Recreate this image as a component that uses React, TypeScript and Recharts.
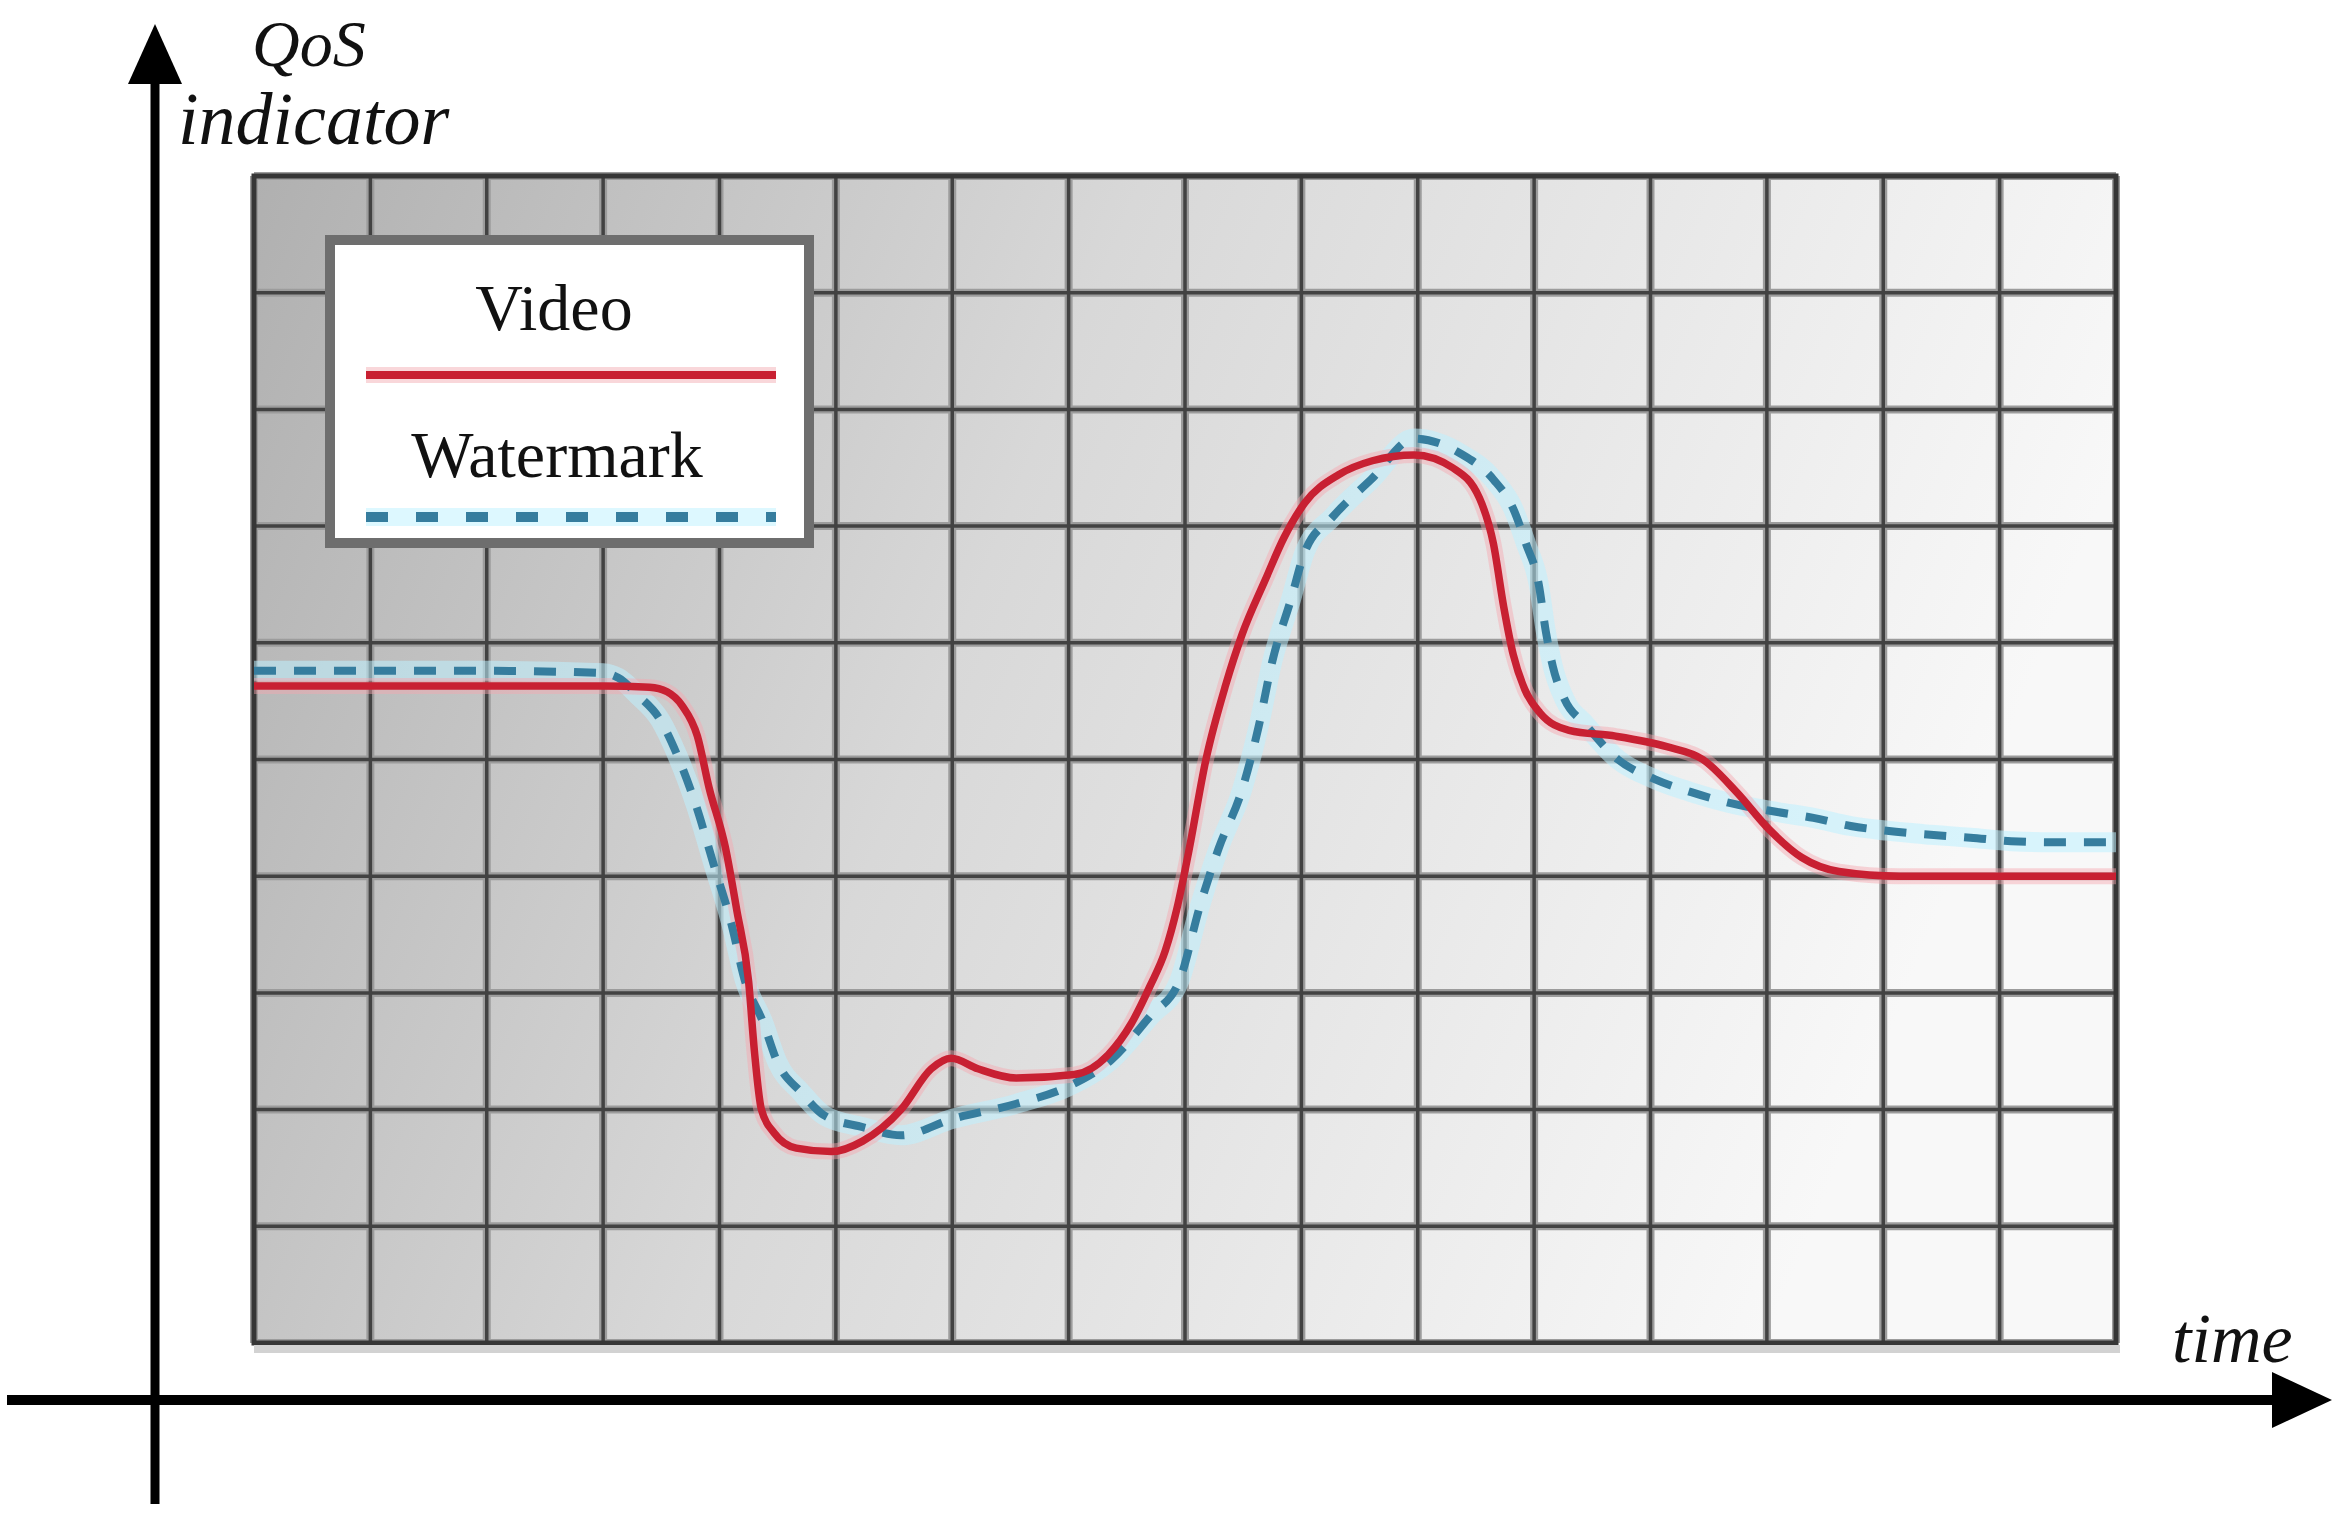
import React from 'react';
import { LineChart, Line, XAxis, YAxis, CartesianGrid, ReferenceArea, Legend } from 'recharts';

const W = 2340;
const H = 1522;

// grid cells (time steps / indicator levels)
const timeTicks = [0, 1, 2, 3, 4, 5, 6, 7, 8, 9, 10, 11, 12, 13, 14, 15, 16];
const qosTicks = [0, 1, 2, 3, 4, 5, 6, 7, 8, 9, 10];

// Video curve (solid red)
const videoTime = [
  0, 1, 2, 3, 3.4, 3.55, 3.68, 3.81, 3.91, 4.05, 4.15, 4.25, 4.3, 4.36, 4.47, 4.66, 4.96, 5.23,
  5.56, 5.82, 5.99, 6.22, 6.55, 7.05, 7.34, 7.54, 7.7, 7.83, 7.93, 8.03, 8.18, 8.35, 8.49, 8.69,
  8.85, 9.03, 9.32, 9.61, 9.97, 10.3, 10.53, 10.65, 10.74, 10.82, 10.92, 11.05, 11.3, 11.7, 12.14,
  12.45, 12.74, 13.02, 13.3, 13.62, 14.14, 15, 16,
];
const videoQos = [
  5.63, 5.63, 5.63, 5.63, 5.62, 5.58, 5.46, 5.2, 4.76, 4.25, 3.7, 3.1, 2.5, 2.0, 1.8, 1.67, 1.64, 1.73,
  2.0, 2.35, 2.44, 2.35, 2.27, 2.3, 2.47, 2.74, 3.06, 3.36, 3.72, 4.2, 5.0, 5.64, 6.07, 6.54,
  6.9, 7.2, 7.44, 7.56, 7.61, 7.5, 7.24, 6.85, 6.3, 5.9, 5.6, 5.4, 5.25, 5.2, 5.11,
  5.0, 4.72, 4.4, 4.16, 4.04, 4.0, 4.0, 4.0,
];

// Watermark curve (dashed blue)
const markTime = [
  0, 1, 2, 3, 3.13, 3.3, 3.49, 3.64, 3.8, 3.95, 4.1, 4.22, 4.37, 4.5, 4.7, 4.9, 5.23, 5.56, 6.0,
  6.55, 7.0, 7.37, 7.7, 7.95, 8.13, 8.29, 8.49, 8.63, 8.75, 8.91, 9.03, 9.27, 9.6, 9.97, 10.37,
  10.65, 10.82, 10.93, 11.04, 11.1, 11.16, 11.26, 11.44, 11.72, 12.04, 12.35, 12.67, 13.09, 13.4,
  13.72, 14.03, 14.35, 14.75, 15.1, 15.46, 16,
];
const markQos = [
  5.76, 5.76, 5.76, 5.74, 5.7, 5.55, 5.34, 5.03, 4.6, 4.1, 3.6, 3.1, 2.76, 2.4, 2.15, 1.95, 1.85, 1.78, 1.92,
  2.05, 2.2, 2.43, 2.8, 3.1, 3.75, 4.24, 4.74, 5.27, 5.84, 6.37, 6.78, 7.08, 7.4, 7.75, 7.62,
  7.4, 7.15, 6.85, 6.5, 6.1, 5.8, 5.52, 5.3, 5.0, 4.83, 4.72, 4.63, 4.55, 4.5,
  4.43, 4.39, 4.36, 4.33, 4.3, 4.29, 4.29,
];

const seriesNames = ['Video', 'Watermark'];

const videoData = videoTime.map((t, i) => ({ t, q: videoQos[i] }));
const markData = markTime.map((t, i) => ({ t, q: markQos[i] }));

const RED = '#c82032';
const BLUE = '#367d9e';

const serif = '"Liberation Serif", "Times New Roman", serif';

// grid lines placed through the axis scales
const gridX = ({ xAxis, offset }: any) =>
  timeTicks.map((t) =>
    xAxis && typeof xAxis.scale === 'function'
      ? xAxis.scale(t)
      : offset.left + (t / 16) * offset.width
  );
const gridY = ({ yAxis, offset }: any) =>
  qosTicks.map((v) =>
    yAxis && typeof yAxis.scale === 'function'
      ? yAxis.scale(v)
      : offset.top + ((10 - v) / 10) * offset.height
  );

// boxed legend in the upper left of the grid
const renderLegend = () => (
  <svg width={489} height={313} style={{ display: 'block' }}>
    <rect x={5} y={5} width={479} height={303} fill="#ffffff" stroke="#6e6e6e" strokeWidth={10} />
    <text x={229} y={95} textAnchor="middle" fontFamily={serif} fontSize={66} fill="#111">
      {seriesNames[0]}
    </text>
    <line x1={41} y1={140} x2={451} y2={140} stroke="#f4b0b6" strokeWidth={16} opacity={0.5} />
    <line x1={41} y1={140} x2={451} y2={140} stroke={RED} strokeWidth={8} />
    <text x={232} y={242} textAnchor="middle" fontFamily={serif} fontSize={66} fill="#111">
      {seriesNames[1]}
    </text>
    <line x1={41} y1={282} x2={451} y2={282} stroke="#c8f4ff" strokeWidth={18} opacity={0.6} />
    <line x1={41} y1={282} x2={451} y2={282} stroke={BLUE} strokeWidth={10} strokeDasharray="22 28" />
  </svg>
);

export default function App() {
  return (
    <div style={{ position: 'absolute', left: 0, top: 0, width: W, height: H, background: '#ffffff' }}>
      <LineChart width={W} height={H} margin={{ top: 176, right: 224, bottom: 179, left: 254 }}>
        <defs>
          <linearGradient id="panelBg" x1="0" y1="0" x2="1" y2="0.25">
            <stop offset="0%" stopColor="#b0b0b0" />
            <stop offset="45%" stopColor="#d8d8d8" />
            <stop offset="100%" stopColor="#f8f8f8" />
          </linearGradient>
        </defs>
        <XAxis
          type="number"
          dataKey="t"
          domain={[0, 16]}
          ticks={timeTicks}
          tick={false}
          tickLine={false}
          axisLine={false}
          height={0}
        />
        <YAxis
          type="number"
          domain={[0, 10]}
          ticks={qosTicks}
          tick={false}
          tickLine={false}
          axisLine={false}
          width={0}
        />
        <CartesianGrid
          fill="url(#panelBg)"
          fillOpacity={1}
          stroke="#9c9c9c"
          strokeWidth={8}
          verticalCoordinatesGenerator={gridX}
          horizontalCoordinatesGenerator={gridY}
        />
        <CartesianGrid
          stroke="#424242"
          strokeWidth={3.5}
          verticalCoordinatesGenerator={gridX}
          horizontalCoordinatesGenerator={gridY}
        />
        <ReferenceArea x1={0} x2={16} y1={0} y2={10} fill="none" stroke="#363636" strokeWidth={5} ifOverflow="visible" />
        <Legend
          layout="vertical"
          align="center"
          verticalAlign="middle"
          content={renderLegend}
          wrapperStyle={{ left: 325, top: 235, width: 489, height: 313 }}
        />
        <Line
          data={markData}
          dataKey="q"
          type="monotone"
          stroke="#bdf0ff"
          strokeWidth={20}
          strokeOpacity={0.55}
          dot={false}
          activeDot={false}
          legendType="none"
          isAnimationActive={false}
        />
        <Line
          data={videoData}
          dataKey="q"
          type="monotone"
          stroke="#f6a6b0"
          strokeWidth={16}
          strokeOpacity={0.45}
          dot={false}
          activeDot={false}
          legendType="none"
          isAnimationActive={false}
        />
        <Line
          data={markData}
          dataKey="q"
          name={seriesNames[1]}
          type="monotone"
          stroke={BLUE}
          strokeWidth={8}
          strokeDasharray="22 18"
          dot={false}
          activeDot={false}
          isAnimationActive={false}
        />
        <Line
          data={videoData}
          dataKey="q"
          name={seriesNames[0]}
          type="monotone"
          stroke={RED}
          strokeWidth={7.5}
          dot={false}
          activeDot={false}
          isAnimationActive={false}
        />
      </LineChart>

      {/* hand-drawn style axes with arrow heads */}
      <svg
        width={W}
        height={H}
        style={{ position: 'absolute', left: 0, top: 0, pointerEvents: 'none' }}
      >
        <rect x={254} y={1345} width={1866} height={8} fill="#d2d2d2" />
        <line x1={155} y1={70} x2={155} y2={1504} stroke="#000" strokeWidth={9} />
        <polygon points="155,24 128,84 182,84" fill="#000" />
        <line x1={7} y1={1400} x2={2285} y2={1400} stroke="#000" strokeWidth={10} />
        <polygon points="2332,1400 2272,1372 2272,1428" fill="#000" />
        <text x={252} y={66} fontFamily={serif} fontStyle="italic" fontSize={66} fill="#111">
          QoS
        </text>
        <text x={178} y={144} fontFamily={serif} fontStyle="italic" fontSize={74} fill="#111">
          indicator
        </text>
        <text x={2172} y={1362} fontFamily={serif} fontStyle="italic" fontSize={70} fill="#111">
          time
        </text>
      </svg>
    </div>
  );
}
